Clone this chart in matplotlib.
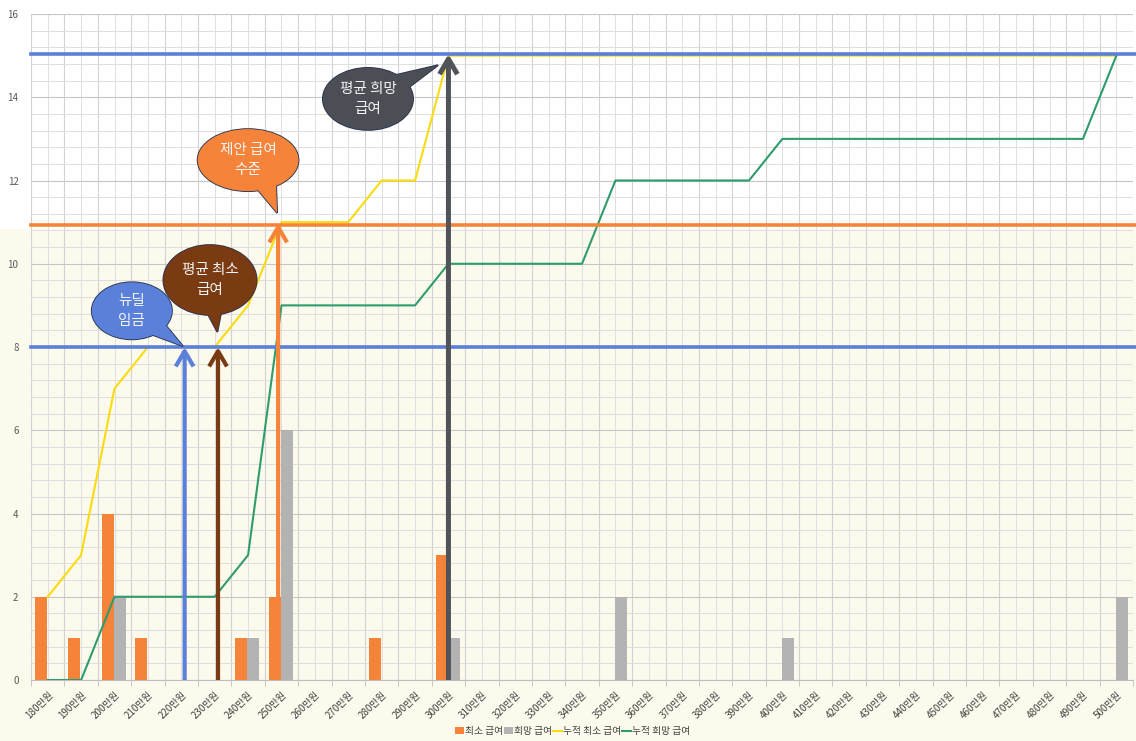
import numpy as np
import matplotlib
matplotlib.use("Agg")
import matplotlib.pyplot as plt
import matplotlib.transforms as mtransforms
from matplotlib.patches import Ellipse, Polygon, Rectangle

plt.rcParams['font.family'] = ['Noto Sans CJK KR', 'DejaVu Sans']

# 급여 구간 (만원)
salary = list(range(180, 510, 10))
labels = [f"{v}만원" for v in salary]

# 구간별 응답 수
min_pay = [2, 1, 4, 1, 0, 0, 1, 2, 0, 0, 1, 0, 3, 0, 0, 0, 0,
           0, 0, 0, 0, 0, 0, 0, 0, 0, 0, 0, 0, 0, 0, 0, 0]
wish_pay = [0, 0, 2, 0, 0, 0, 1, 6, 0, 0, 0, 0, 1, 0, 0, 0, 0,
            2, 0, 0, 0, 0, 1, 0, 0, 0, 0, 0, 0, 0, 0, 0, 2]

# 누적 응답 수
cum_min = [2, 3, 7, 8, 8, 8, 9, 11, 11, 11, 12, 12, 15, 15, 15, 15, 15,
           15, 15, 15, 15, 15, 15, 15, 15, 15, 15, 15, 15, 15, 15, 15, 15]
cum_wish = [0, 0, 2, 2, 2, 2, 3, 9, 9, 9, 9, 9, 10, 10, 10, 10, 10,
            12, 12, 12, 12, 12, 13, 13, 13, 13, 13, 13, 13, 13, 13, 13, 15]

# 기준선 (누적 인원 기준)
level_newdeal = 8
level_offer = 10.94
level_wish = 15.04

# 화살표: 급여 위치(만원), 끝 높이, 색
arrow_pos = [221, 231, 249, 300]
arrow_top = [8, 8, 10.98, 15.04]
arrow_col = ['#5B80D9', '#7A3A12', '#F6833A', '#505357']

ORANGE = '#F6833A'
GRAY = '#B3B3B3'
YELLOW = '#FADC0E'
GREEN = '#2E9C6C'
BLUE = '#5B80D9'
CREAM = '#FCFAEC'


def to_idx(v):
    return (v - salary[0]) / 10.0


def bubble(ax, cx, cy, w, h, tip, a1, a2, color, text):
    # 말풍선: 타원 + 꼬리, 외곽선을 먼저 그리고 채움을 위에 덮는다
    base = [(cx + 0.45 * w * np.cos(np.radians(a)),
             cy + 0.45 * h * np.sin(np.radians(a))) for a in (a1, a2)]
    tail = [base[0], tip, base[1]]
    for lw, ec, z in ((1.3, '#2B3550', 6), (0, 'none', 7)):
        ax.add_patch(Ellipse((cx, cy), w, h, fc=color, ec=ec, lw=lw, zorder=z))
        ax.add_patch(Polygon(tail, closed=True, fc=color, ec=ec, lw=lw,
                             joinstyle='miter', zorder=z))
    ax.text(cx, cy, text, color='#F4F4F4', fontsize=10.5, ha='center',
            va='center', linespacing=1.5, zorder=8)


fig = plt.figure(figsize=(11.36, 7.41), dpi=100)
fig.patch.set_facecolor('white')
ax = fig.add_axes([0.0273, 0.0823, 0.9701, 0.8988])
ax.set_facecolor('none')

x = np.arange(len(salary))
b1 = ax.bar(x - 0.2, min_pay, width=0.36, color=ORANGE, zorder=2)
b2 = ax.bar(x + 0.16, wish_pay, width=0.36, color=GRAY, zorder=2)
l1, = ax.plot(x, cum_min, color=YELLOW, lw=1.5, zorder=3)
l2, = ax.plot(x, cum_wish, color=GREEN, lw=1.5, zorder=3)

for lvl, col in ((level_wish, BLUE), (level_offer, ORANGE), (level_newdeal, BLUE)):
    ax.axhline(lvl, xmax=1.003, color=col, lw=2.6, zorder=4, clip_on=False)

for pos, top, col in zip(arrow_pos, arrow_top, arrow_col):
    lw = 3.6 if col == arrow_col[-1] else 3.0
    ax.annotate('', xy=(to_idx(pos), top), xytext=(to_idx(pos), 0),
                arrowprops=dict(arrowstyle='->,head_length=0.55,head_width=0.32',
                                color=col, lw=lw, shrinkA=0, shrinkB=0,
                                mutation_scale=20, capstyle='butt'),
                zorder=5)

bubble(ax, 2.52, 8.87, 2.40, 1.37, (4.05, 8.02), -28, -62, BLUE, '뉴딜\n임금')
bubble(ax, 4.86, 9.61, 2.79, 1.68, (5.08, 8.36), -95, -74, '#7A3A12', '평균 최소\n급여')
bubble(ax, 6.00, 12.49, 3.02, 1.49, (6.87, 11.22), -80, -52, ORANGE, '제안 급여\n수준')
bubble(ax, 9.59, 13.96, 2.70, 1.49, (11.69, 14.77), 55, 20, '#4B4E55', '평균 희망\n급여')

ax.set_xlim(-0.5, len(salary) - 0.5)
ax.set_ylim(0, 16)
ax.set_yticks(np.arange(0, 17, 2))
ax.set_yticks(np.arange(0, 16.01, 0.4), minor=True)
ax.set_xticks(x)
ax.set_xticks(np.arange(-0.5, len(salary), 1.0), minor=True)
ax.set_xticklabels(labels, rotation=45, ha='right', va='top',
                   rotation_mode='anchor', fontsize=7, color='#404040')
ax.tick_params(axis='x', which='major', length=0, pad=7)
ax.tick_params(axis='x', which='minor', length=4, color='#BFBFBF')
ax.tick_params(axis='y', which='both', length=0, pad=9, labelsize=7,
               labelcolor='#595959')

ax.grid(axis='y', which='major', color='#C6C6C6', lw=0.8, zorder=0)
ax.grid(axis='y', which='minor', color='#DEDEDE', lw=0.7, zorder=0)
ax.grid(axis='x', which='major', color='#E0E0E0', lw=0.7, zorder=0)
ax.grid(axis='x', which='minor', color='#D2D2D2', lw=0.8, zorder=0)
ax.set_axisbelow(True)
for side in ('top', 'right', 'left'):
    ax.spines[side].set_visible(False)
ax.spines['bottom'].set_color('#BFBFBF')

# 주황 기준선 아래쪽 배경
blend = mtransforms.blended_transform_factory(fig.transFigure, ax.transData)
fig.add_artist(Rectangle((0, -20), 1, 20 + level_offer - 0.1, transform=blend,
                         fc=CREAM, ec='none', zorder=-1))

fig.legend([b1, b2, l1, l2], ['최소 급여', '희망 급여', '누적 최소 급여', '누적 희망 급여'],
           loc='center', bbox_to_anchor=(0.504, 0.0135), ncol=4, frameon=False,
           fontsize=7, handlelength=0.9, handleheight=0.7, handletextpad=0.1,
           columnspacing=0.1, labelcolor='#404040')

fig.savefig('out.png', dpi=100)
